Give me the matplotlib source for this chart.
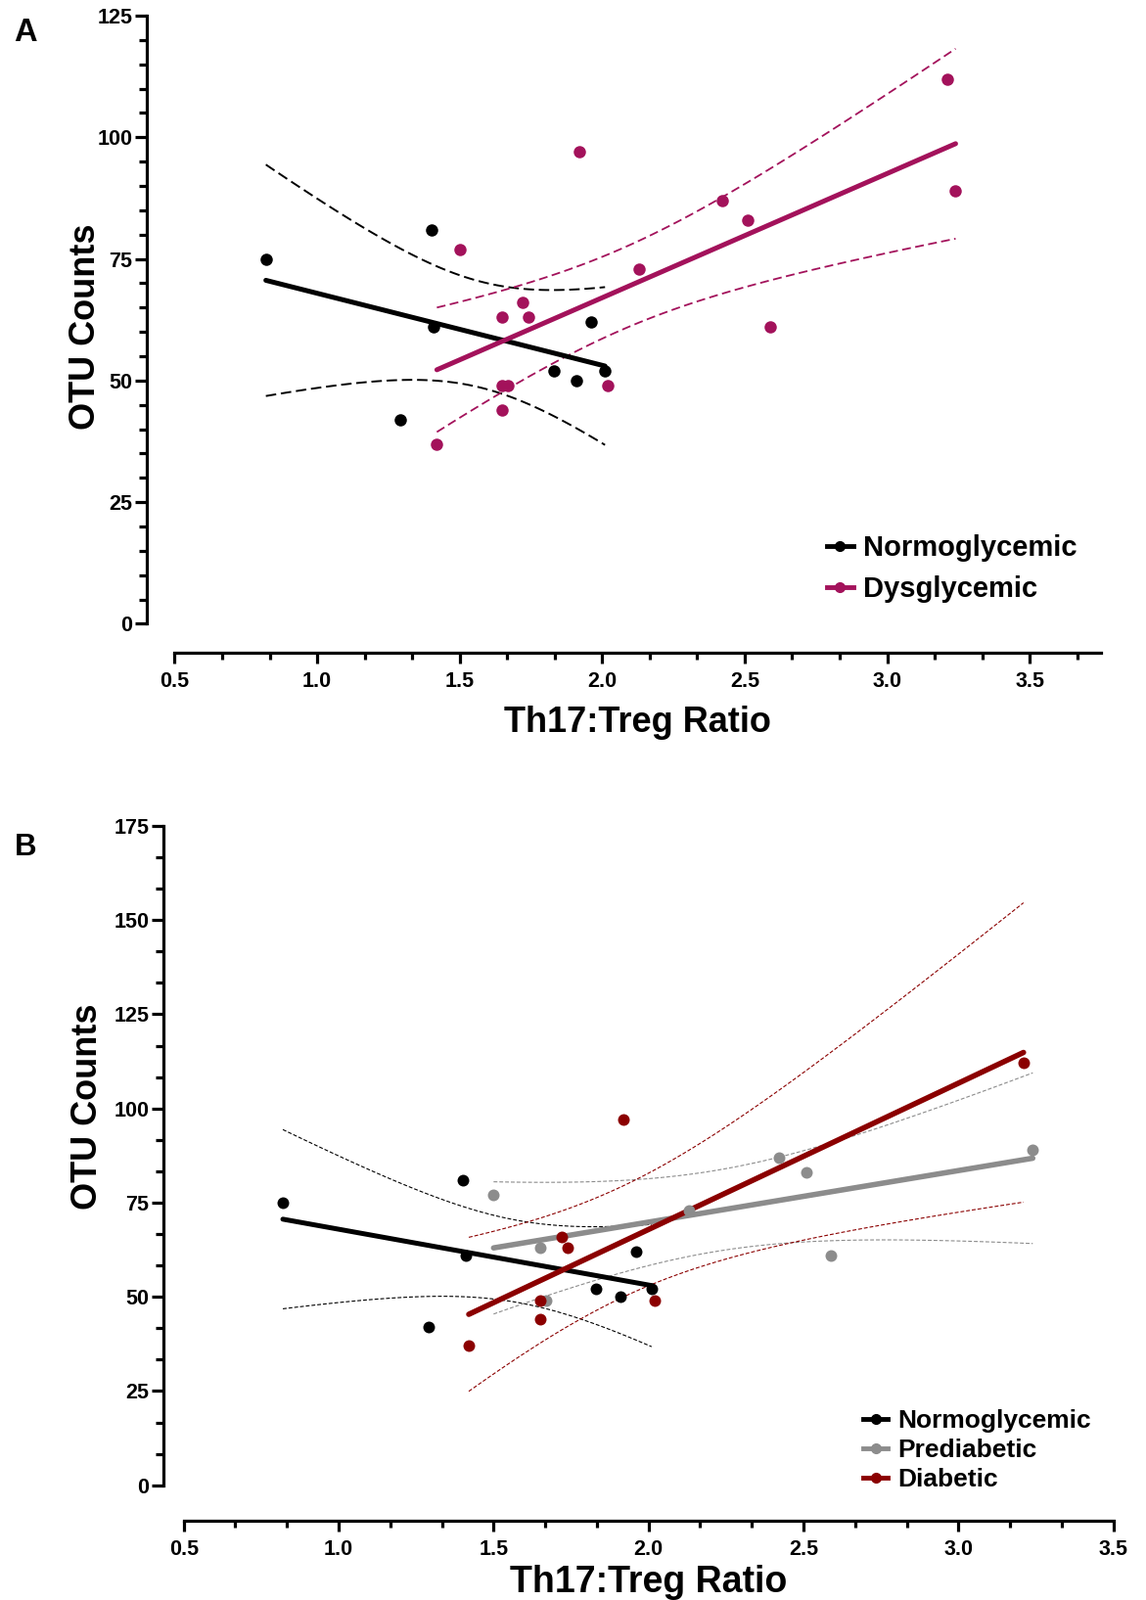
import numpy as np
import matplotlib
matplotlib.use('Agg')
from matplotlib import pyplot as plt
from matplotlib.ticker import MultipleLocator, FormatStrFormatter
from matplotlib.lines import Line2D

plt.rcParams['font.family'] = ['Liberation Sans', 'DejaVu Sans']
plt.rcParams['font.weight'] = 'bold'
plt.rcParams['axes.labelweight'] = 'bold'

# Th17:Treg ratio vs OTU counts
normo_x = [0.82, 1.29, 1.40, 1.41, 1.83, 1.91, 1.96, 2.01]
normo_y = [75, 42, 81, 61, 52, 50, 62, 52]

prediab_x = [1.50, 1.65, 1.67, 2.13, 2.42, 2.51, 2.59, 3.24]
prediab_y = [77, 63, 49, 73, 87, 83, 61, 89]

diab_x = [1.42, 1.65, 1.65, 1.72, 1.74, 1.92, 2.02, 3.21]
diab_y = [37, 49, 44, 66, 63, 97, 49, 112]

# panel A pools prediabetic + diabetic
dysgly_x = prediab_x + diab_x
dysgly_y = prediab_y + diab_y

labels_a = ['Normoglycemic', 'Dysglycemic']
labels_b = ['Normoglycemic', 'Prediabetic', 'Diabetic']

c_black = '#000000'
c_magenta = '#a3125b'
c_gray = '#8c8c8c'
c_dred = '#8b0000'

# two-sided 95% t critical values by degrees of freedom
T975 = {6: 2.447, 14: 2.145}


def fit_band(x, y, n=120):
    x = np.asarray(x, float)
    y = np.asarray(y, float)
    slope, icpt = np.polyfit(x, y, 1)
    xs = np.linspace(x.min(), x.max(), n)
    fit = icpt + slope * xs
    resid = y - (icpt + slope * x)
    dof = len(x) - 2
    s = np.sqrt(np.sum(resid ** 2) / dof)
    sxx = np.sum((x - x.mean()) ** 2)
    se = s * np.sqrt(1.0 / len(x) + (xs - x.mean()) ** 2 / sxx)
    t = T975[dof]
    return xs, fit, fit - t * se, fit + t * se


def style_axes(ax, left_out, bottom_out):
    ax.spines['top'].set_visible(False)
    ax.spines['right'].set_visible(False)
    ax.spines['left'].set_position(('outward', left_out))
    ax.spines['bottom'].set_position(('outward', bottom_out))
    ax.spines['left'].set_linewidth(2.3)
    ax.spines['bottom'].set_linewidth(2.3)
    ax.tick_params(axis='y', which='major', direction='out', length=8.5, width=2.3,
                   labelsize=15.5, pad=2)
    ax.tick_params(axis='y', which='minor', direction='out', length=5.5, width=2.3)
    ax.tick_params(axis='x', which='major', direction='out', length=7.7, width=2.3,
                   labelsize=15.5, pad=6)
    ax.tick_params(axis='x', which='minor', direction='out', length=5, width=2.3)
    ax.xaxis.set_major_locator(MultipleLocator(0.5))
    ax.xaxis.set_minor_locator(MultipleLocator(0.5 / 3))
    ax.xaxis.set_major_formatter(FormatStrFormatter('%.1f'))


def draw_group(ax, x, y, color, lw_fit, lw_ci, dashes, ms):
    xs, fit, lo, hi = fit_band(x, y)
    ax.plot(xs, lo, color=color, lw=lw_ci, dashes=dashes, zorder=2)
    ax.plot(xs, hi, color=color, lw=lw_ci, dashes=dashes, zorder=2)
    ax.plot(xs, fit, color=color, lw=lw_fit, solid_capstyle='round', zorder=3)
    ax.plot(x, y, 'o', color=color, ms=ms, mec='none', zorder=4)


fig = plt.figure(figsize=(11.71, 16.35), dpi=100)

# ---- panel A
ax_a = fig.add_axes([0.1524, 0.6101, 0.8083, 0.3801])
style_axes(ax_a, 20.5, 21)
ax_a.set_xlim(0.5, 3.75)
ax_a.set_ylim(0, 125)
ax_a.yaxis.set_major_locator(MultipleLocator(25))
ax_a.yaxis.set_minor_locator(MultipleLocator(5))

draw_group(ax_a, normo_x, normo_y, c_black, 3.6, 1.4, (5.5, 2.5), 9)
draw_group(ax_a, dysgly_x, dysgly_y, c_magenta, 3.6, 1.3, (5, 2.5), 9)

ax_a.set_xlabel('Th17:Treg Ratio', fontsize=26)
ax_a.set_ylabel('OTU Counts', fontsize=26)
ax_a.xaxis.set_label_coords(0.5, -0.135)
ax_a.yaxis.set_label_coords(-0.078, 0.489)

h_a = [Line2D([], [], color=c, lw=3.5, marker='o', ms=7) for c in (c_black, c_magenta)]
ax_a.legend(h_a, labels_a, loc='upper left', bbox_to_anchor=(0.7216, 0.6659),
            bbox_transform=fig.transFigure, frameon=False, fontsize=21,
            handlelength=0.92, handletextpad=0.35, labelspacing=0.48,
            borderpad=0, borderaxespad=0)

# ---- panel B
ax_b = fig.add_axes([0.1603, 0.07174, 0.8112, 0.4121])
style_axes(ax_b, 15, 26)
ax_b.set_xlim(0.5, 3.5)
ax_b.set_ylim(0, 175)
ax_b.yaxis.set_major_locator(MultipleLocator(25))
ax_b.yaxis.set_minor_locator(MultipleLocator(25 / 3))

draw_group(ax_b, normo_x, normo_y, c_black, 3.6, 0.8, (3.5, 1.8), 8.6)
draw_group(ax_b, prediab_x, prediab_y, c_gray, 4, 0.8, (3.5, 1.8), 8.6)
draw_group(ax_b, diab_x, diab_y, c_dred, 4, 0.8, (3.5, 1.8), 8.6)

ax_b.set_xlabel('Th17:Treg Ratio', fontsize=27)
ax_b.set_ylabel('OTU Counts', fontsize=26)
ax_b.xaxis.set_label_coords(0.5, -0.12)
ax_b.yaxis.set_label_coords(-0.085, 0.574)

h_b = [Line2D([], [], color=c, lw=3.5, marker='o', ms=7) for c in (c_black, c_gray, c_dred)]
ax_b.legend(h_b, labels_b, loc='upper left', bbox_to_anchor=(0.7532, 0.1191),
            bbox_transform=fig.transFigure, frameon=False, fontsize=19,
            handlelength=0.95, handletextpad=0.4, labelspacing=0.23,
            borderpad=0, borderaxespad=0)

fig.text(0.022, 0.9796, 'A', fontsize=23.5, ha='center', va='center')
fig.text(0.022, 0.4703, 'B', fontsize=22.5, ha='center', va='center')

fig.savefig('out.png', dpi=100)
